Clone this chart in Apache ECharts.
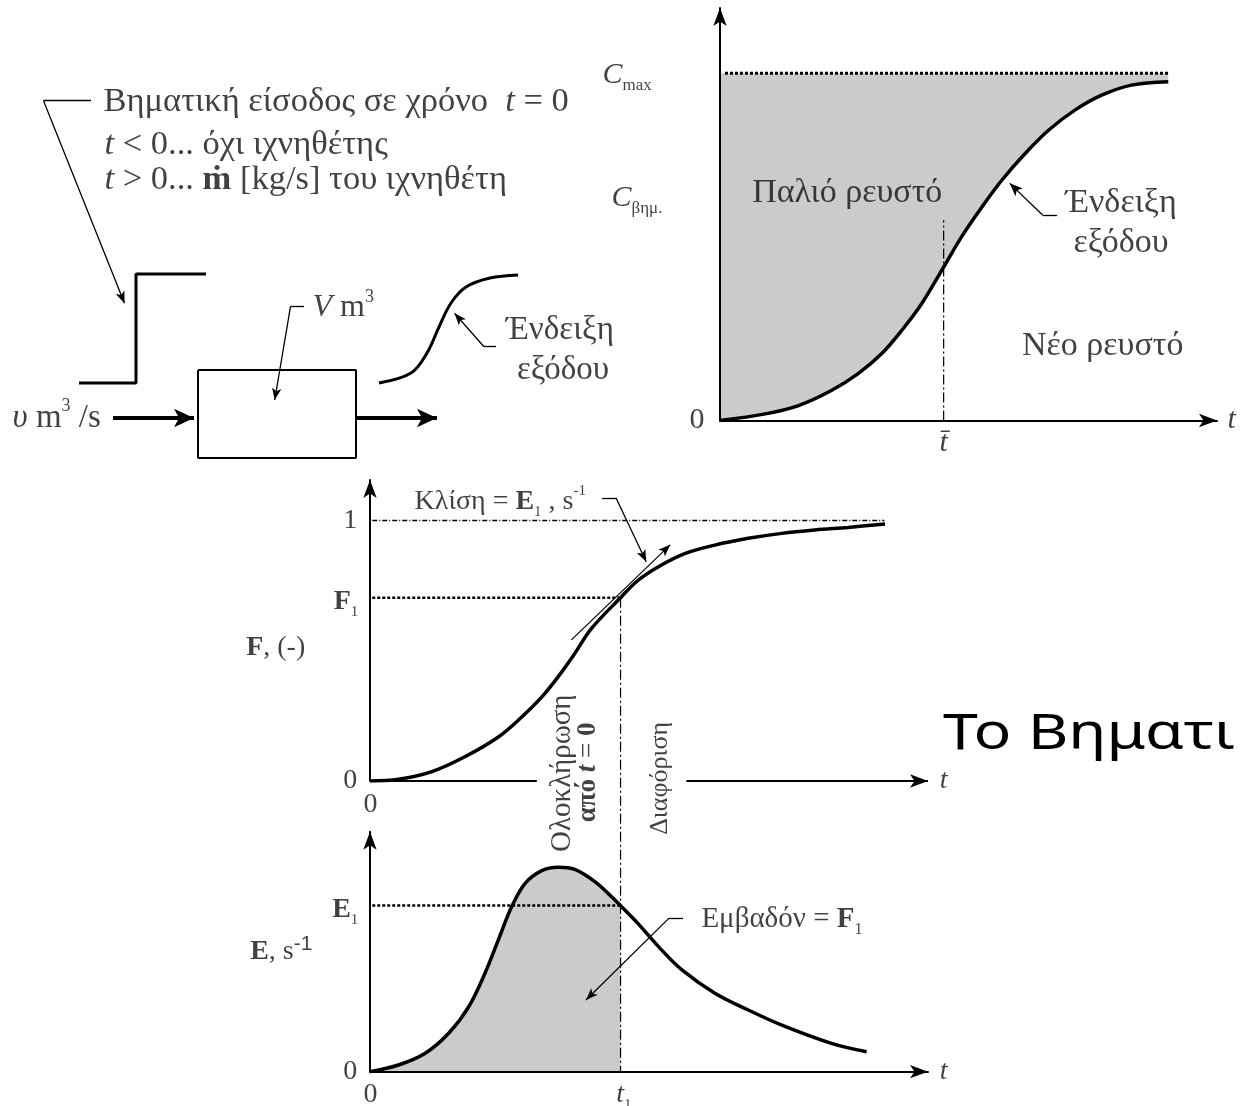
<!DOCTYPE html>
<html>
<head>
    <meta charset="utf-8" />
    <title>Βηματική είσοδος</title>
    <script src="https://cdn.jsdelivr.net/npm/echarts@6/dist/echarts.min.js"></script>
    <style>
        html, body { margin: 0; padding: 0; background: #fff; }
        #main { width: 1241px; height: 1106px; }
    </style>
</head>
<body>
<div id="main"></div>
<script type="text/javascript">
    // ---- values ----
    // top right: outlet concentration C/Cmax against t (t axis runs 0..10)
    var cT   = [0, 0.91, 1.58, 2.25, 2.78, 3.25, 3.66, 4.06, 4.50, 4.86, 5.27, 5.67, 6.14, 6.61, 7.14, 7.68, 8.28, 9.02];
    var cVal = [0, 0.019, 0.043, 0.087, 0.135, 0.192, 0.260, 0.337, 0.442, 0.529, 0.615, 0.692, 0.769, 0.836, 0.894, 0.937, 0.966, 0.976];
    var cMax = 1;
    var tMean = 4.50;
    var tMeanTop = 0.577;

    // middle: F curve
    var fT   = [0, 0.51, 1.11, 1.70, 2.30, 2.72, 3.08, 3.37, 3.67, 3.97, 4.49, 4.80, 5.17, 5.65, 6.18, 6.78, 7.38, 7.97, 8.57, 9.23];
    var fVal = [0, 0.0065, 0.036, 0.093, 0.169, 0.246, 0.323, 0.400, 0.490, 0.586, 0.704, 0.770, 0.823, 0.874, 0.906, 0.932, 0.951, 0.964, 0.974, 0.987];

    // bottom: E curve
    var eT   = [0, 0.51, 0.99, 1.41, 1.77, 2.06, 2.30, 2.54, 2.78, 3.08, 3.37, 3.67, 4.03, 4.33, 4.49, 4.80, 5.17, 5.59, 6.18, 6.78, 7.38, 8.27, 8.90];
    var eVal = [0, 0.028, 0.077, 0.160, 0.271, 0.410, 0.549, 0.688, 0.785, 0.838, 0.852, 0.843, 0.792, 0.729, 0.692, 0.618, 0.521, 0.424, 0.327, 0.257, 0.194, 0.118, 0.083];

    var t1 = 4.49, F1 = 0.704, E1 = 0.692;
    var fOneEnd = 9.22;      // dotted "1" line end
    var cMaxEnd = 9.05;      // dotted Cmax line end
    var t1Bottom = -1.116;   // t1 line runs down to the E axis (in F units)

    // tangent at t1 (F units)
    var tangentLine = [[3.61, 0.542], [5.38, 0.907]];

    // top left sketch (own units, y down)
    var stepInput   = [[7.9, 38.3], [13.6, 38.3], [13.6, 27.4], [20.6, 27.4]];
    var vessel      = [[19.8, 37.0], [35.6, 37.0], [35.6, 45.8], [19.8, 45.8], [19.8, 37.0]];
    var outputCurve = [[37.9, 38.3], [41.1, 37.3], [42.7, 35.3], [43.9, 32.7], [45.1, 30.3], [46.6, 28.7], [49.0, 27.8], [51.8, 27.5]];
    var inletArrow  = [[11.3, 41.8], [19.4, 41.8]];
    var outletArrow = [[35.6, 41.8], [43.7, 41.8]];

    var SERIF = '"Liberation Serif", "DejaVu Serif", serif';

    function zip(xs, ys) { return xs.map(function (x, i) { return [x, ys[i]]; }); }

    function richFor(size) {
        var s = Math.round(size * 0.55);
        return {
            i:   { fontStyle: 'italic', fontSize: size, fontFamily: SERIF },
            b:   { fontWeight: 'bold', fontSize: size, fontFamily: SERIF },
            bi:  { fontWeight: 'bold', fontStyle: 'italic', fontSize: size, fontFamily: SERIF },
            sub: { fontSize: s, verticalAlign: 'bottom', fontFamily: SERIF },
            sup: { fontSize: s, verticalAlign: 'top', fontFamily: SERIF },
            sup2: { fontSize: Math.round(size * 0.75), verticalAlign: 'top', fontFamily: '"Liberation Sans", sans-serif' }
        };
    }

    // text note anchored at a data point
    function note(x, y, text, where, size, extra) {
        size = size || 34;
        var lab = {
            show: true, formatter: text, position: where || 'inside', distance: 0,
            fontFamily: SERIF, fontSize: size, lineHeight: size + 8, color: '#111', rich: richFor(size)
        };
        if (extra) for (var k in extra) lab[k] = extra[k];
        return { value: [x, y], label: lab };
    }

    function notes(gi, items) {
        return {
            type: 'scatter', xAxisIndex: gi, yAxisIndex: gi, clip: false, silent: true,
            symbolSize: 1, itemStyle: { color: 'transparent' }, z: 10, data: items
        };
    }

    // straight segments, optionally with an arrow head at the end
    function seg(a, b, w, arrow, head) {
        var ls = { color: '#000', width: w, type: 'solid' };
        return [
            { coord: a, symbol: 'none', lineStyle: ls },
            { coord: b, symbol: arrow ? 'arrow' : 'none', symbolSize: head || [8, 13], lineStyle: ls }
        ];
    }

    function arrows(gi, segs) {
        return {
            type: 'line', xAxisIndex: gi, yAxisIndex: gi, data: [], clip: false, silent: true, z: 6,
            markLine: {
                silent: true, animation: false, symbol: ['none', 'none'], precision: 4,
                label: { show: false }, emphasis: { disabled: true }, data: segs
            }
        };
    }

    function plain(gi, data, style, extra) {
        var s = {
            type: 'line', xAxisIndex: gi, yAxisIndex: gi, data: data, symbol: 'none',
            silent: true, lineStyle: style, z: 5
        };
        if (extra) for (var k in extra) s[k] = extra[k];
        return s;
    }

    var AXIS_HEAD = [10, 18];
    var arrowAxis = {
        show: true, onZero: true, symbol: ['none', 'arrow'], symbolSize: AXIS_HEAD,
        lineStyle: { color: '#000', width: 2 }
    };
    var bare = { axisTick: { show: false }, axisLabel: { show: false }, splitLine: { show: false } };
    function ax(o) { for (var k in bare) o[k] = bare[k]; o.type = 'value'; return o; }

    var dotted = { color: '#000', width: 2.5, type: [3, 2] };
    var thinDot = { color: '#000', width: 1.5, type: [5, 2, 1, 2] };
    var dashDot = { color: '#000', width: 1.2, type: [10, 3, 2, 3] };
    var curveStyle = { color: '#000', width: 3.5 };
    var hidden = { width: 0, opacity: 0 };
    var GRAY = '#cbcbcb';
    var SMOOTH = 0.35;

    var chart = echarts.init(document.getElementById('main'));

    var option = {
        animation: false,
        backgroundColor: '#fff',
        textStyle: { fontFamily: SERIF },
        grid: [
            // C chart: grid top sits on Cmax so the grey can fill up to it
            { left: 720, top: 73.3, width: 497, height: 347.2 },
            { left: 370, top: 480, width: 558, height: 301 },
            { left: 370, top: 831.7, width: 558, height: 240 },
            { left: 0, top: 0, width: 620, height: 470 },
            // taller twin of the C grid, only for its y axis arrow
            { left: 720, top: 8, width: 497, height: 412.5 }
        ],
        xAxis: [
            ax({ gridIndex: 0, min: 0, max: 10, axisLine: arrowAxis, z: 8 }),
            ax({ gridIndex: 1, min: 0, max: 10, axisLine: { show: false } }),
            ax({ gridIndex: 2, min: 0, max: 10, axisLine: arrowAxis, z: 8 }),
            ax({ gridIndex: 3, min: 0, max: 62, show: false }),
            ax({ gridIndex: 4, min: 0, max: 10, show: false })
        ],
        yAxis: [
            ax({ gridIndex: 0, min: 0, max: cMax, axisLine: { show: false } }),
            ax({ gridIndex: 1, min: 0, max: 1.156, axisLine: arrowAxis }),
            ax({ gridIndex: 2, min: 0, max: 1, axisLine: arrowAxis, z: 8 }),
            ax({ gridIndex: 3, min: 0, max: 47, inverse: true, show: false }),
            ax({ gridIndex: 4, min: 0, max: 1.188, axisLine: arrowAxis, z: 8 })
        ],
        graphic: [{
            type: 'text', left: 943, top: 710, silent: true, scaleX: 1.16, scaleY: 0.92,
            style: { text: 'Το Βηματι', font: '54px "Noto Sans", "Open Sans", sans-serif', fill: '#000' }
        }],
        series: [
            // ---- C chart: grey between the curve and Cmax ----
            plain(0, zip(cT, cVal), curveStyle,
                { smooth: SMOOTH, areaStyle: { color: GRAY, opacity: 1, origin: 'end' }, z: 7 }),
            plain(0, [[0.1, cMax], [cMaxEnd, cMax]], { color: '#000', width: 3, type: [3, 2] }, { clip: false, z: 9 }),
            plain(0, [[tMean, 0], [tMean, tMeanTop]], dashDot, { z: 8 }),
            arrows(0, [
                seg([6.78, 0.592], [6.49, 0.592], 1.3),
                seg([6.49, 0.592], [5.83, 0.683], 1.3, true)
            ]),
            notes(0, [
                note(-1.87, 0.995, '{i|C}{sub|max}', 'inside', 30),
                note(-1.67, 0.641, '{i|C}{sub|βημ.}', 'inside', 30),
                note(-0.3, 0, '0', 'left', 30),
                note(10.2, 0, '{i|t}', 'right', 30),
                note(tMean, -0.065, '{i|t\u0304}', 'inside', 30),
                note(2.56, 0.655, 'Παλιό ρευστό'),
                note(8.07, 0.626, 'Ένδειξη'),
                note(8.07, 0.511, 'εξόδου'),
                note(7.70, 0.213, 'Νέο ρευστό')
            ]),

            // ---- F chart ----
            plain(1, zip(fT, fVal), curveStyle, { smooth: SMOOTH, z: 7 }),
            plain(1, [[0.04, 1], [fOneEnd, 1]], thinDot),
            plain(1, [[0.04, F1], [t1, F1]], dotted),
            plain(1, [[t1, F1], [t1, t1Bottom]], dashDot, { clip: false }),
            arrows(1, [
                seg([0, 0], [2.99, 0], 2),
                seg([5.67, 0], [10, 0], 2, true, AXIS_HEAD),
                seg(tangentLine[0], tangentLine[1], 1.2, true, [7, 12]),
                seg([4.16, 1.087], [4.41, 1.087], 1.3),
                seg([4.41, 1.087], [4.95, 0.842], 1.3, true, [7, 12]),
                seg([4.28, -0.277], [4.28, 0.381], 1.5, true, [8, 14]),
                seg([4.75, 0.388], [4.75, -0.291], 1.5, true, [8, 14])
            ]),
            notes(1, [
                note(-0.22, 1, '1', 'left', 28),
                note(-0.2, 0.69, '{b|F}{sub|1}', 'left', 28),
                note(-1.69, 0.512, '{b|F}, (-)', 'inside', 28),
                note(-0.22, 0, '0', 'left', 28),
                note(0.01, -0.089, '0', 'inside', 28),
                note(10.2, 0, '{i|t}', 'right', 28),
                note(0.79, 1.073, 'Κλίση = {b|E}{sub|1} , s{sup|-1}', 'right', 28),
                note(3.44, 0.03, 'Ολοκλήρωση', 'inside', 29, { rotate: 90 }),
                note(3.91, 0.033, '{b|από} {bi|t} = {b|0}', 'inside', 27, { rotate: 90 }),
                note(5.20, 0.01, 'Διαφόριση', 'inside', 26, { rotate: 90 })
            ]),

            // ---- E chart ----
            plain(2, zip(eT, eVal).filter(function (p) { return p[0] <= t1; }), hidden,
                { smooth: SMOOTH, areaStyle: { color: GRAY, opacity: 1 }, z: 2 }),
            plain(2, zip(eT, eVal), curveStyle, { smooth: SMOOTH, z: 7 }),
            plain(2, [[0.04, E1], [t1, E1]], dotted),
            arrows(2, [
                seg([5.61, 0.640], [5.36, 0.640], 1.3),
                seg([5.36, 0.640], [3.87, 0.299], 1.3, true, [7, 12])
            ]),
            notes(2, [
                note(-0.2, 0.674, '{b|E}{sub|1}', 'left', 28),
                note(-1.59, 0.50, '{b|E}, s{sup2|-1}', 'inside', 28),
                note(-0.22, 0, '0', 'left', 28),
                note(0.01, -0.096, '0', 'inside', 28),
                note(4.55, -0.096, '{i|t}{sub|1}', 'inside', 28),
                note(10.2, 0, '{i|t}', 'right', 28),
                note(5.93, 0.633, 'Εμβαδόν = {b|F}{sub|1}', 'right', 29)
            ]),

            // ---- sketch ----
            plain(3, stepInput, { color: '#000', width: 3 }),
            plain(3, vessel, { color: '#000', width: 2 }),
            plain(3, outputCurve, { color: '#000', width: 3 }, { smooth: SMOOTH }),
            arrows(3, [
                seg([4.35, 10.07], [9.1, 10.07], 1.3),
                seg([4.35, 10.07], [12.45, 30.33], 1.3, true, [7, 12]),
                seg([29.05, 30.67], [30.4, 30.67], 1.3),
                seg([29.05, 30.67], [27.47, 40.0], 1.3, true, [7, 12]),
                seg([49.6, 34.67], [48.4, 34.67], 1.3),
                seg([48.4, 34.67], [45.45, 31.33], 1.3, true, [7, 12]),
                seg(inletArrow[0], inletArrow[1], 4, true, [14, 20]),
                seg(outletArrow[0], outletArrow[1], 4, true, [14, 20])
            ]),
            notes(3, [
                note(10.3, 10.17, 'Βηματική είσοδος σε χρόνο  {i|t} = 0', 'right', 34.5),
                note(10.4, 14.5, '{i|t} < 0... όχι ιχνηθέτης', 'right', 34.5),
                note(10.4, 18.0, '{i|t} > 0... {b|ṁ} [kg/s] του ιχνηθέτη', 'right', 34.5),
                note(31.2, 30.8, '{i|V} m{sup|3}', 'right', 32),
                note(1.2, 41.8, '{i|υ} m{sup|3} /s', 'right', 33),
                note(56.0, 33.0, 'Ένδειξη', 'inside', 33),
                note(56.3, 37.0, 'εξόδου', 'inside', 33)
            ])
        ]
    };

    chart.setOption(option);
</script>
</body>
</html>
